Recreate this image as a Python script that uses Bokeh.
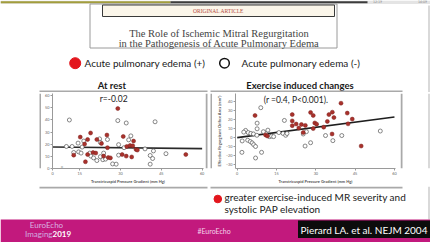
from bokeh.plotting import figure
from bokeh.models import Range1d, Label, FixedTicker
from bokeh.layouts import column, row
from bokeh.core.properties import value
from bokeh.embed import file_html
from bokeh.resources import INLINE

# ---------------- data ----------------
# At rest: transtricuspid pressure gradient (mm Hg) vs effective regurgitant orifice area (mm2)
rest_ape_x = [29.0, 25.0, 19.0, 15.2, 17.9, 21.3, 31.0, 34.8, 16.8, 23.0, 25.2, 32.3, 33.5, 34.5,
              35.7, 36.2, 12.8, 17.9, 19.9, 20.9, 23.8, 25.5, 26.3, 30.6, 32.1, 34.1, 17.1, 54.0]
rest_ape_y = [49.5, 27.5, 29.2, 25.8, 23.8, 23.8, 26.3, 22.5, 20.0, 20.5, 17.0, 18.0, 18.8, 18.5,
              15.5, 15.0, 10.8, 11.3, 13.0, 12.5, 10.0, 8.8, 8.5, 11.3, 10.0, 9.3, 5.3, 11.3]
rest_no_x = [11.2, 29.0, 32.1, 42.7, 33.8, 33.0, 25.2, 22.3, 22.6, 16.5, 14.4, 10.1, 12.2, 29.3,
             31.3, 39.0, 42.1, 46.7, 40.9, 41.8, 40.9, 12.8, 14.6, 15.5, 18.7, 19.1, 20.1, 22.6,
             23.8, 23.5, 24.5, 27.1, 28.4, 29.3, 21.3, 15.9]
rest_no_y = [40.0, 39.5, 37.5, 38.5, 26.8, 23.5, 23.8, 24.3, 21.3, 22.5, 20.8, 18.0, 18.0, 19.5,
             17.0, 16.0, 14.3, 12.0, 10.5, 8.0, 3.3, 13.0, 13.5, 12.5, 12.5, 10.0, 8.5, 9.5,
             12.5, 7.0, 7.5, 3.5, 3.3, 10.8, 6.3, 17.5]
rest_fit_x = [5, 60]
rest_fit_y = [17.6, 16.2]

# Exercise-induced changes
ex_ape_x = [6.8, 10.8, 11.5, 21.0, 21.0, 21.0, 22.5, 24.5, 23.5, 25.2, 28.0, 29.0, 29.6, 30.3,
            29.0, 33.0, 34.4, 35.0, 36.3, 36.9, 36.2, 39.6, 42.0, 42.3, 43.9, 47.3, 26.0]
ex_ape_y = [24.0, 2.4, 1.2, 25.0, 18.0, 12.7, 14.5, 14.0, 10.0, 5.0, 27.4, 24.0, 15.7, 14.4,
            9.4, 11.0, 17.4, 25.0, 27.7, 21.7, 3.4, 37.7, 26.7, 14.7, 20.0, -10.0, 13.0]
ex_no_x = [9.0, 3.2, 4.2, 5.2, 6.2, 2.5, 7.6, 7.6, 7.5, 1.9, 4.0, 5.0, 5.7, 6.3, 7.0, 1.8, 7.0,
           9.3, 10.8, 11.7, 12.3, 13.1, 13.9, 15.9, 17.5, 18.0, 18.5, 19.0, 25.2, 25.9, 28.0,
           26.4, 33.7, 36.5, 39.9, 54.6, 10.0]
ex_no_y = [32.7, 7.4, 5.0, 4.0, 3.5, 5.5, 15.5, 9.2, 2.0, -4.3, -3.5, -5.0, -6.5, -8.5, -10.5,
           -17.0, -23.3, -17.0, 4.3, 7.7, 0.5, 1.0, 0.5, 5.0, 4.0, 18.5, 2.0, 4.0, 3.4, -10.0,
           -6.3, 6.0, 1.7, -4.0, 1.7, 6.7, 6.0]
ex_fit_x = [0, 60]
ex_fit_y = [-0.6, 22.3]

rest_xticks = [5, 15, 30, 45, 60]
rest_xtick_labels = ["0", "15", "30", "45", "60"]
rest_yticks = [0, 10, 20, 30, 40, 50, 60]
ex_xticks = [0, 15, 30, 45, 60]
ex_yticks = [-30, -20, -10, 0, 10, 20, 30, 40]

x_title = "Transtricuspid Pressure Gradient (mm Hg)"
y_title = "Effective Regurgitant Orifice Area (mm\u00b2)"

SANS = "Lato"
SERIF = "Liberation Serif"
RED = "#e3161d"
DOT_RED = "#a9312c"
PINK = "#c2197d"
EDGE = "#b3b3b3"
FRAME = "#a9a9a9"

# panel boxes in page pixels: (left, right)
REST_BOX = (39, 207)
EX_BOX = (210, 402)
MID_TOP, MID_BOTTOM = 92, 186


def canvas(x0, x1, y_top, y_bottom):
    """Plain drawing surface in page pixels (y grows downward)."""
    p = figure(width=x1 - x0, height=y_bottom - y_top, x_range=Range1d(x0, x1),
               y_range=Range1d(y_bottom, y_top), output_backend="svg",
               toolbar_location=None, x_axis_location=None, y_axis_location=None,
               min_border=0)
    p.grid.visible = False
    p.outline_line_color = None
    p.background_fill_color = "white"
    p.border_fill_color = "white"
    return p


def txt(p, x, y, s, size, color="#1a1a1a", font=SANS, style="normal", align="left",
        baseline="middle"):
    p.text(x=[x], y=[y], text=[s], text_font=value(font), text_font_size=size,
           text_color=color, text_font_style=style, text_align=align,
           text_baseline=baseline)


def grey_block(p, left, right, top, bottom):
    p.quad(left=left, right=right, top=top, bottom=bottom, fill_color=FRAME, line_color=None)


# ---------------- header ----------------
head = canvas(0, 430, 0, MID_TOP)
head.quad(left=0, right=430, top=0, bottom=3.5, fill_color="#e4e4e4", line_color=None)
head.segment(x0=0, y0=1.7, x1=170, y1=1.7, line_color="#a29d3c", line_width=2)
head.segment(x0=170, y0=1.7, x1=367, y1=1.7, line_color="#3c3c3c", line_width=2)
txt(head, 377, 1.8, "12:19", "3.5px", color="#8a8a8a", align="center")
txt(head, 422, 1.8, "14:09", "3.5px", color="#8a8a8a", align="center")

# journal header box
head.quad(left=89.5, right=336.5, top=3.5, bottom=47.5, fill_color="white",
          line_color="#9a9a9a", line_width=1)
head.quad(left=102, right=334, top=4.5, bottom=16, fill_color="#fbf6ea",
          line_color="#3a3a3a", line_width=1)
txt(head, 218, 10.5, "ORIGINAL ARTICLE", "5.5px", color="#b4493d", font=SERIF, align="center")
txt(head, 218.5, 33, "The Role of Ischemic Mitral Regurgitation", "10.5px", color="#444444",
    font=SERIF, align="center")
txt(head, 218.5, 42.5, "in the Pathogenesis of Acute Pulmonary Edema", "10.5px",
    color="#444444", font=SERIF, align="center")

# legend
head.circle(x=[74.7], y=[62.7], radius=5.5, fill_color=RED, line_color=RED)
txt(head, 84, 62.7, "Acute pulmonary edema (+)", "10px")
head.circle(x=[224], y=[62.7], radius=4.8, fill_color="white", line_color="#111111",
            line_width=1.5)
txt(head, 241, 62.7, "Acute pulmonary edema (-)", "10px")

# panel titles
txt(head, 111.3, 85, "At rest", "9.5px", style="bold", align="center")
txt(head, 299.5, 85, "Exercise induced changes", "9.5px", style="bold", align="center")
head.segment(x0=428.5, y0=5, x1=428.5, y1=MID_TOP, line_color=EDGE, line_width=1)
# top edges of the panel frames
for bx in (REST_BOX, EX_BOX):
    grey_block(head, bx[0], bx[1], MID_TOP - 2, MID_TOP)


# ---------------- scatter panels ----------------
def panel(w, h, xr, yr, borders, xticks, yticks, ytitle=None):
    left, right, top, bottom = borders
    p = figure(width=w, height=h, x_range=Range1d(*xr), y_range=Range1d(*yr),
               output_backend="svg", toolbar_location=None,
               min_border_left=left, min_border_right=right,
               min_border_top=top, min_border_bottom=bottom)
    p.grid.visible = False
    p.outline_line_color = None
    p.background_fill_color = "white"
    p.border_fill_color = "white"
    for ax in (p.xaxis[0], p.yaxis[0]):
        ax.axis_line_color = "#9a9a9a"
        ax.major_tick_line_color = "#9a9a9a"
        ax.minor_tick_line_color = None
        ax.major_tick_out = 2
        ax.major_tick_in = 0
        ax.major_label_standoff = 1
        ax.major_label_text_font_size = "3.8px"
        ax.major_label_text_color = "#666666"
        ax.major_label_text_font = SANS
        ax.axis_label_text_font_size = "4px"
        ax.axis_label_text_color = "#555555"
        ax.axis_label_text_font = SANS
        ax.axis_label_text_font_style = "bold"
        ax.axis_label_standoff = 1
    p.xaxis.ticker = FixedTicker(ticks=xticks)
    p.yaxis.ticker = FixedTicker(ticks=yticks)
    p.xaxis.axis_label = x_title
    if ytitle:
        p.yaxis.axis_label = ytitle
    return p


mid_h = MID_BOTTOM - MID_TOP
rest_w = REST_BOX[1] - REST_BOX[0] - 4
ex_w = EX_BOX[1] - EX_BOX[0] - 4

rest = panel(rest_w, mid_h, (5, 60.5), (-0.3, 62), (11, 2, 1, 10), rest_xticks, rest_yticks)
rest.xaxis.major_label_overrides = dict(zip(rest_xticks, rest_xtick_labels))
rest.line(rest_fit_x, rest_fit_y, line_color="#2a2a2a", line_width=1.6)
rest.scatter(rest_no_x, rest_no_y, size=4, fill_color="white", line_color="#555555",
             line_width=0.7)
rest.scatter(rest_ape_x, rest_ape_y, size=4, fill_color=DOT_RED, line_color="#7c201c",
             line_width=0.5)
rest.add_layout(Label(x=27.5, y=57.3, text="r=-0.02", text_font=SANS, text_font_size="8.5px",
                      text_color="#222222", text_align="center", text_baseline="middle"))
rest.add_layout(Label(x=8.5, y=0.6, text="\u2248", text_font=SANS, text_font_size="5px",
                      text_color="#9a9a9a", text_align="center", text_baseline="middle"))

ex = panel(ex_w, mid_h, (-0.65, 60.4), (-35, 48.5), (23, 5, 1, 10), ex_xticks, ex_yticks,
           y_title)
ex.line(ex_fit_x, ex_fit_y, line_color="#1e1e1e", line_width=1.6)
ex.scatter(ex_no_x, ex_no_y, size=4, fill_color="white", line_color="#555555", line_width=0.7)
ex.scatter(ex_ape_x, ex_ape_y, size=4, fill_color=DOT_RED, line_color="#7c201c",
           line_width=0.5)
ex.add_layout(Label(x=22.4, y=41.4, text="(r =0.4, P<0.001).", text_font=SANS,
                    text_font_size="8.5px", text_color="#222222", text_align="center",
                    text_baseline="middle"))

# side strips carrying the vertical frame edges
left_strip = canvas(0, REST_BOX[0] + 2, MID_TOP, MID_BOTTOM)
grey_block(left_strip, REST_BOX[0], REST_BOX[0] + 2, MID_TOP, MID_BOTTOM)
gap_strip = canvas(REST_BOX[1] - 2, EX_BOX[0] + 2, MID_TOP, MID_BOTTOM)
grey_block(gap_strip, REST_BOX[1] - 2, REST_BOX[1], MID_TOP, MID_BOTTOM)
grey_block(gap_strip, EX_BOX[0], EX_BOX[0] + 2, MID_TOP, MID_BOTTOM)
right_strip = canvas(EX_BOX[1] - 2, 430, MID_TOP, MID_BOTTOM)
grey_block(right_strip, EX_BOX[1] - 2, EX_BOX[1], MID_TOP, MID_BOTTOM)
right_strip.segment(x0=428.5, y0=MID_TOP, x1=428.5, y1=MID_BOTTOM, line_color=EDGE,
                    line_width=1)

middle = row(left_strip, rest, gap_strip, ex, right_strip)

# ---------------- footer ----------------
foot = canvas(0, 430, MID_BOTTOM, 242)
for bx in (REST_BOX, EX_BOX):
    grey_block(foot, bx[0], bx[1], MID_BOTTOM, MID_BOTTOM + 2)
foot.segment(x0=428.5, y0=MID_BOTTOM, x1=428.5, y1=219, line_color=EDGE, line_width=1)
foot.circle(x=[217.3], y=[198.5], radius=3.8, fill_color=RED, line_color=RED)
txt(foot, 224, 196, "greater exercise-induced MR severity and", "10px")
txt(foot, 224, 208.5, "systolic  PAP elevation", "10px")

foot.quad(left=0, right=430, top=219, bottom=242, fill_color=PINK, line_color=None)
foot.quad(left=297.5, right=430, top=220, bottom=237.5, fill_color="#0c0c0c", line_color=None)
txt(foot, 363.5, 229, "Pierard LA. et al. NEJM 2004", "10px", color="white", align="center")
txt(foot, 213.5, 230.5, "#EuroEcho", "7px", color="#f3d3ea", align="center")
txt(foot, 46, 224.5, "EuroEcho", "8px", color="#d9b3e3", align="center")
txt(foot, 52, 233.5, "Imaging", "8px", color="#d0aee0", align="right")
txt(foot, 52, 233.5, "2019", "8px", color="white", style="bold")

layout = column(head, middle, foot)

open("out.html", "w").write(file_html(layout, INLINE))
